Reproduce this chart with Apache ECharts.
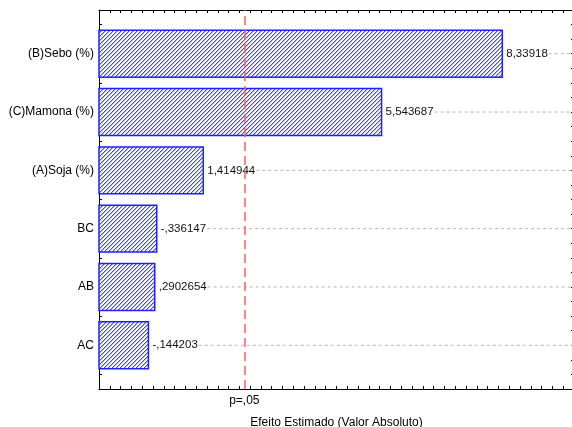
<!DOCTYPE html>
<html><head><meta charset="utf-8">
<script src="https://cdn.jsdelivr.net/npm/echarts@6/dist/echarts.min.js"></script>
<style>html,body{margin:0;padding:0;background:#fff}#c{width:572px;height:427px}</style>
</head><body><div id="c"></div>
<script>
const categories = ['(B)Sebo (%)', '(C)Mamona (%)', '(A)Soja (%)', 'BC', 'AB', 'AC'];
const effects = [8.33918, 5.543687, 1.414944, -0.336147, 0.2902654, -0.144203];
const criticalValue = 2.365;
const criticalLabel = 'p=,05';
const xAxisTitle = 'Efeito Estimado (Valor Absoluto)';

const X_MIN = -1, X_MAX = 10, Y_MIN = 0.25, Y_MAX = 6.75;
const FONT = '"Liberation Sans", Arial, sans-serif';
const VFONT = '11.5px ' + FONT;

function fmt(v) {
  let s = String(v);
  s = s.replace(/^(-?)0\./, '$1.');
  return s.replace('.', ',');
}

// hatch pattern
const pc = document.createElement('canvas');
pc.width = 4; pc.height = 4;
const g = pc.getContext('2d');
g.fillStyle = '#fff'; g.fillRect(0, 0, 4, 4);
for (let i = 0; i < 4; i++) {
  g.fillStyle = '#4444ff'; g.fillRect(3 - i, i, 1, 1);
  g.fillStyle = '#b4b4ff'; g.fillRect((4 - i) % 4, i, 1, 1);
}
const mctx = document.createElement('canvas').getContext('2d');
mctx.font = VFONT;

function renderItem(params, api) {
  const v = api.value(0), y = api.value(1), i = params.dataIndex;
  const s = api.coord([X_MIN, y]);
  const e = api.coord([v, y]);
  const r = api.coord([X_MAX, y]);
  const h = api.size([0, 1])[1] * 0.805;
  const label = fmt(effects[i]);
  const tx = e[0] + 4;
  const tw = mctx.measureText(label).width;
  return {
    type: 'group',
    children: [
      { type: 'line', shape: { x1: tx + tw + 1, y1: e[1], x2: r[0], y2: e[1] },
        style: { stroke: '#b4b4b4', lineWidth: 1, lineDash: [3, 3] } },
      { type: 'rect', shape: { x: s[0], y: s[1] - h / 2, width: e[0] - s[0], height: h },
        style: { fill: { image: pc, repeat: 'repeat' }, stroke: '#2020ff', lineWidth: 1.5 } },
      { type: 'text', x: tx, y: e[1],
        style: { text: label, font: VFONT, fill: '#111', verticalAlign: 'middle', align: 'left' } }
    ]
  };
}

const axisCommonX = {
  type: 'value', min: X_MIN, max: X_MAX, interval: 0.25,
  axisLine: { show: true, onZero: false, lineStyle: { color: '#000', width: 1 } },
  axisTick: { show: true, inside: true, length: 3, lineStyle: { color: '#000' } },
  axisLabel: { show: false }, splitLine: { show: false }
};
const axisCommonY = {
  type: 'value', min: Y_MIN, max: Y_MAX, interval: 0.25, inverse: true,
  axisLine: { show: true, onZero: false, lineStyle: { color: '#000', width: 1 } },
  axisTick: { show: true, inside: true, length: 3, lineStyle: { color: '#000' } },
  splitLine: { show: false }
};

const chart = echarts.init(document.getElementById('c'));
chart.setOption({
  animation: false,
  backgroundColor: '#fff',
  grid: { left: 99, right: -2, top: 10, bottom: 38, outerBoundsMode: 'none', containLabel: false },
  xAxis: [
    Object.assign({}, axisCommonX, {
      position: 'bottom', name: xAxisTitle, nameLocation: 'middle', nameGap: 28,
      nameTextStyle: { fontFamily: FONT, fontSize: 12, color: '#000' }
    }),
    Object.assign({}, axisCommonX, { position: 'top' })
  ],
  yAxis: [
    Object.assign({}, axisCommonY, {
      position: 'left',
      axisLabel: {
        show: true, margin: 5, fontFamily: FONT, fontSize: 12, color: '#000',
        formatter: v => Number.isInteger(v) && v >= 1 && v <= categories.length ? categories[v - 1] : ''
      }
    }),
    Object.assign({}, axisCommonY, { position: 'right', axisLabel: { show: false } })
  ],
  series: [{
    type: 'custom',
    renderItem: renderItem,
    data: effects.map((v, i) => [Math.abs(v), i + 1]),
    encode: { x: 0, y: 1 },
    clip: false,
    markLine: {
      silent: true, symbol: 'none', animation: false,
      lineStyle: { color: '#ff5c5c', width: 1.5, type: [9, 5] },
      label: { show: true, position: 'start', formatter: criticalLabel, distance: 6,
               color: '#000', fontSize: 12, fontFamily: FONT },
      emphasis: { disabled: true },
      data: [[{ coord: [criticalValue, Y_MAX] }, { coord: [criticalValue, Y_MIN] }]]
    }
  }]
});
</script>
</body></html>
